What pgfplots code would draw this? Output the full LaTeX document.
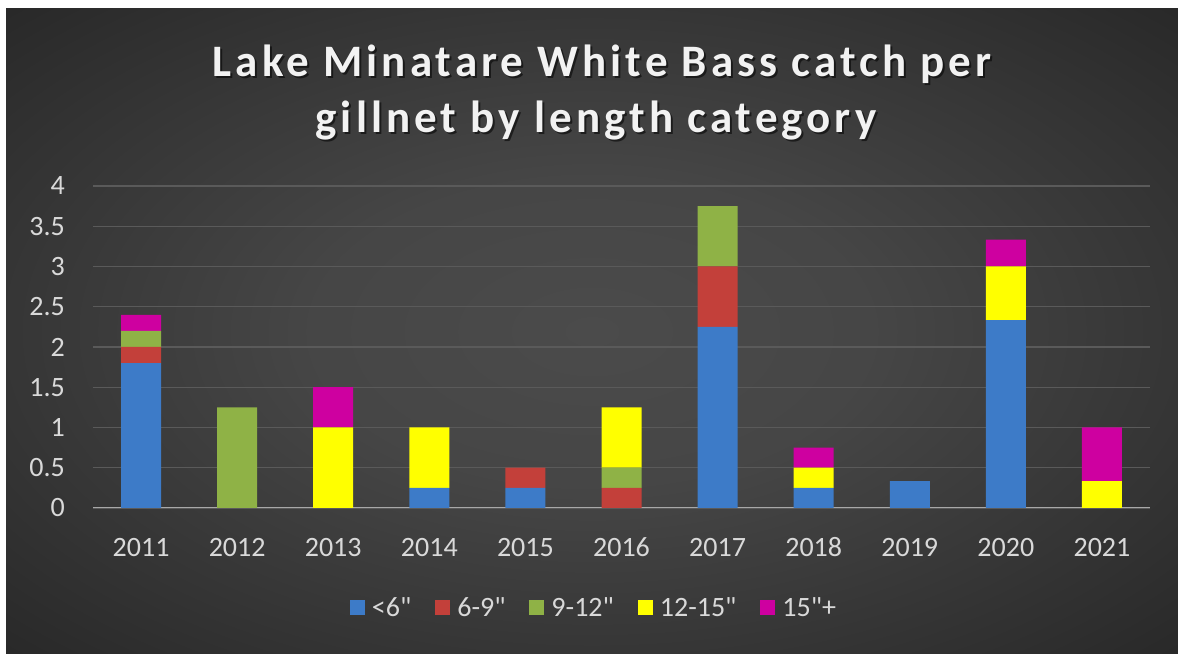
\documentclass[border=0pt]{standalone}
\usepackage{pgfplots}
\usepackage{pgfplotstable}
\pgfplotsset{compat=1.18}
\usepackage{fontspec}
\setmainfont{Carlito}[Ligatures=TeXOff]
\newfontfamily\titlefont[LetterSpace=9]{Carlito}
\definecolor{cblue}{HTML}{3D7BC8}
\definecolor{cred}{HTML}{C3403A}
\definecolor{cgreen}{HTML}{8FB246}
\definecolor{cyellow}{HTML}{FFFF00}
\definecolor{cmag}{HTML}{CE00A0}
\definecolor{gridc}{HTML}{5A5A5A}
\definecolor{basec}{HTML}{A8A8A8}
\definecolor{tickc}{HTML}{D9D9D9}
\definecolor{bgin}{HTML}{4B4B4B}
\definecolor{bgout}{HTML}{282828}
\pgfdeclareradialshading{bgshade}{\pgfpoint{0bp}{0bp}}{color(0bp)=(bgin); color(12bp)=(bgin!85!bgout); color(36bp)=(bgout); color(50bp)=(bgout)}
\pgfplotstableread{
x a b c d e
0 1.8 0.2 0.2 0 0.2
1 0 0 1.25 0 0
2 0 0 0 1 0.5
3 0.25 0 0 0.75 0
4 0.25 0.25 0 0 0
5 0 0.25 0.25 0.75 0
6 2.25 0.75 0.75 0 0
7 0.25 0 0 0.25 0.25
8 0.333 0 0 0 0
9 2.333 0 0 0.667 0.333
10 0 0 0 0.333 0.667
}\data
\pgfplotsset{myleg/.style={legend image code/.code={\fill[##1] (0bp,-7.5bp) rectangle (15bp,7.5bp);}}}
\def\q{"}
\begin{document}
\begin{tikzpicture}
\fill[white] (0bp,0bp) rectangle (1178bp,654bp);
\shade[shading=bgshade] (6bp,0bp) rectangle (1178bp,645bp);
\node[anchor=base, text=black, opacity=0.55, font=\titlefont\bfseries\fontsize{45bp}{54bp}\selectfont] at (604bp,575bp) {Lake Minatare White Bass catch per};
\node[anchor=base, text=black, opacity=0.55, font=\titlefont\bfseries\fontsize{45bp}{54bp}\selectfont] at (598bp,519bp) {gillnet by length category};
\node[anchor=base, text=white!95!black, font=\titlefont\bfseries\fontsize{45bp}{54bp}\selectfont] at (602bp,577bp) {Lake Minatare White Bass catch per};
\node[anchor=base, text=white!95!black, font=\titlefont\bfseries\fontsize{45bp}{54bp}\selectfont] at (596bp,521bp) {gillnet by length category};
\begin{axis}[
  at={(93bp,146bp)}, anchor=south west,
  scale only axis, width=1057bp, height=322bp,
  xmin=-0.5, xmax=10.5, ymin=0, ymax=4,
  ybar stacked, bar width=40bp,
  axis line style={draw=none},
  major tick length=0pt, tick style={draw=none},
  ymajorgrids, grid style={color=gridc, line width=1.3bp},
  xtick={0,...,10},
  xticklabels={2011,2012,2013,2014,2015,2016,2017,2018,2019,2020,2021},
  ytick={0,0.5,...,4},
  /pgf/number format/assume math mode=true,
  /pgf/number format/fixed,
  ticklabel style={font=\fontsize{28bp}{32bp}\selectfont, text=tickc, inner sep=0pt},
  xticklabel style={anchor=base, yshift=-48bp},
  yticklabel style={anchor=east, xshift=-28bp},
  legend columns=5,
  legend style={at={(0.473,-0.31)}, anchor=center, draw=none, fill=none,
    text=tickc, font=\fontsize{28bp}{32bp}\selectfont,
    /tikz/every even column/.append style={column sep=24bp},
    /tikz/every odd column/.append style={column sep=7bp},
    nodes={inner sep=0pt}},
  legend cell align=left,
]
\addplot[fill=cblue, draw=none, myleg] table[x=x, y=a] {\data};
\addplot[fill=cred, draw=none, myleg] table[x=x, y=b] {\data};
\addplot[fill=cgreen, draw=none, myleg] table[x=x, y=c] {\data};
\addplot[fill=cyellow, draw=none, myleg] table[x=x, y=d] {\data};
\addplot[fill=cmag, draw=none, myleg] table[x=x, y=e] {\data};
\legend{{<6\q},{6-9\q},{9-12\q},{12-15\q},{15\q+}}
\draw[basec, line width=2.5bp] (axis cs:-0.5,0) -- (axis cs:10.5,0);
\end{axis}
\end{tikzpicture}
\end{document}
